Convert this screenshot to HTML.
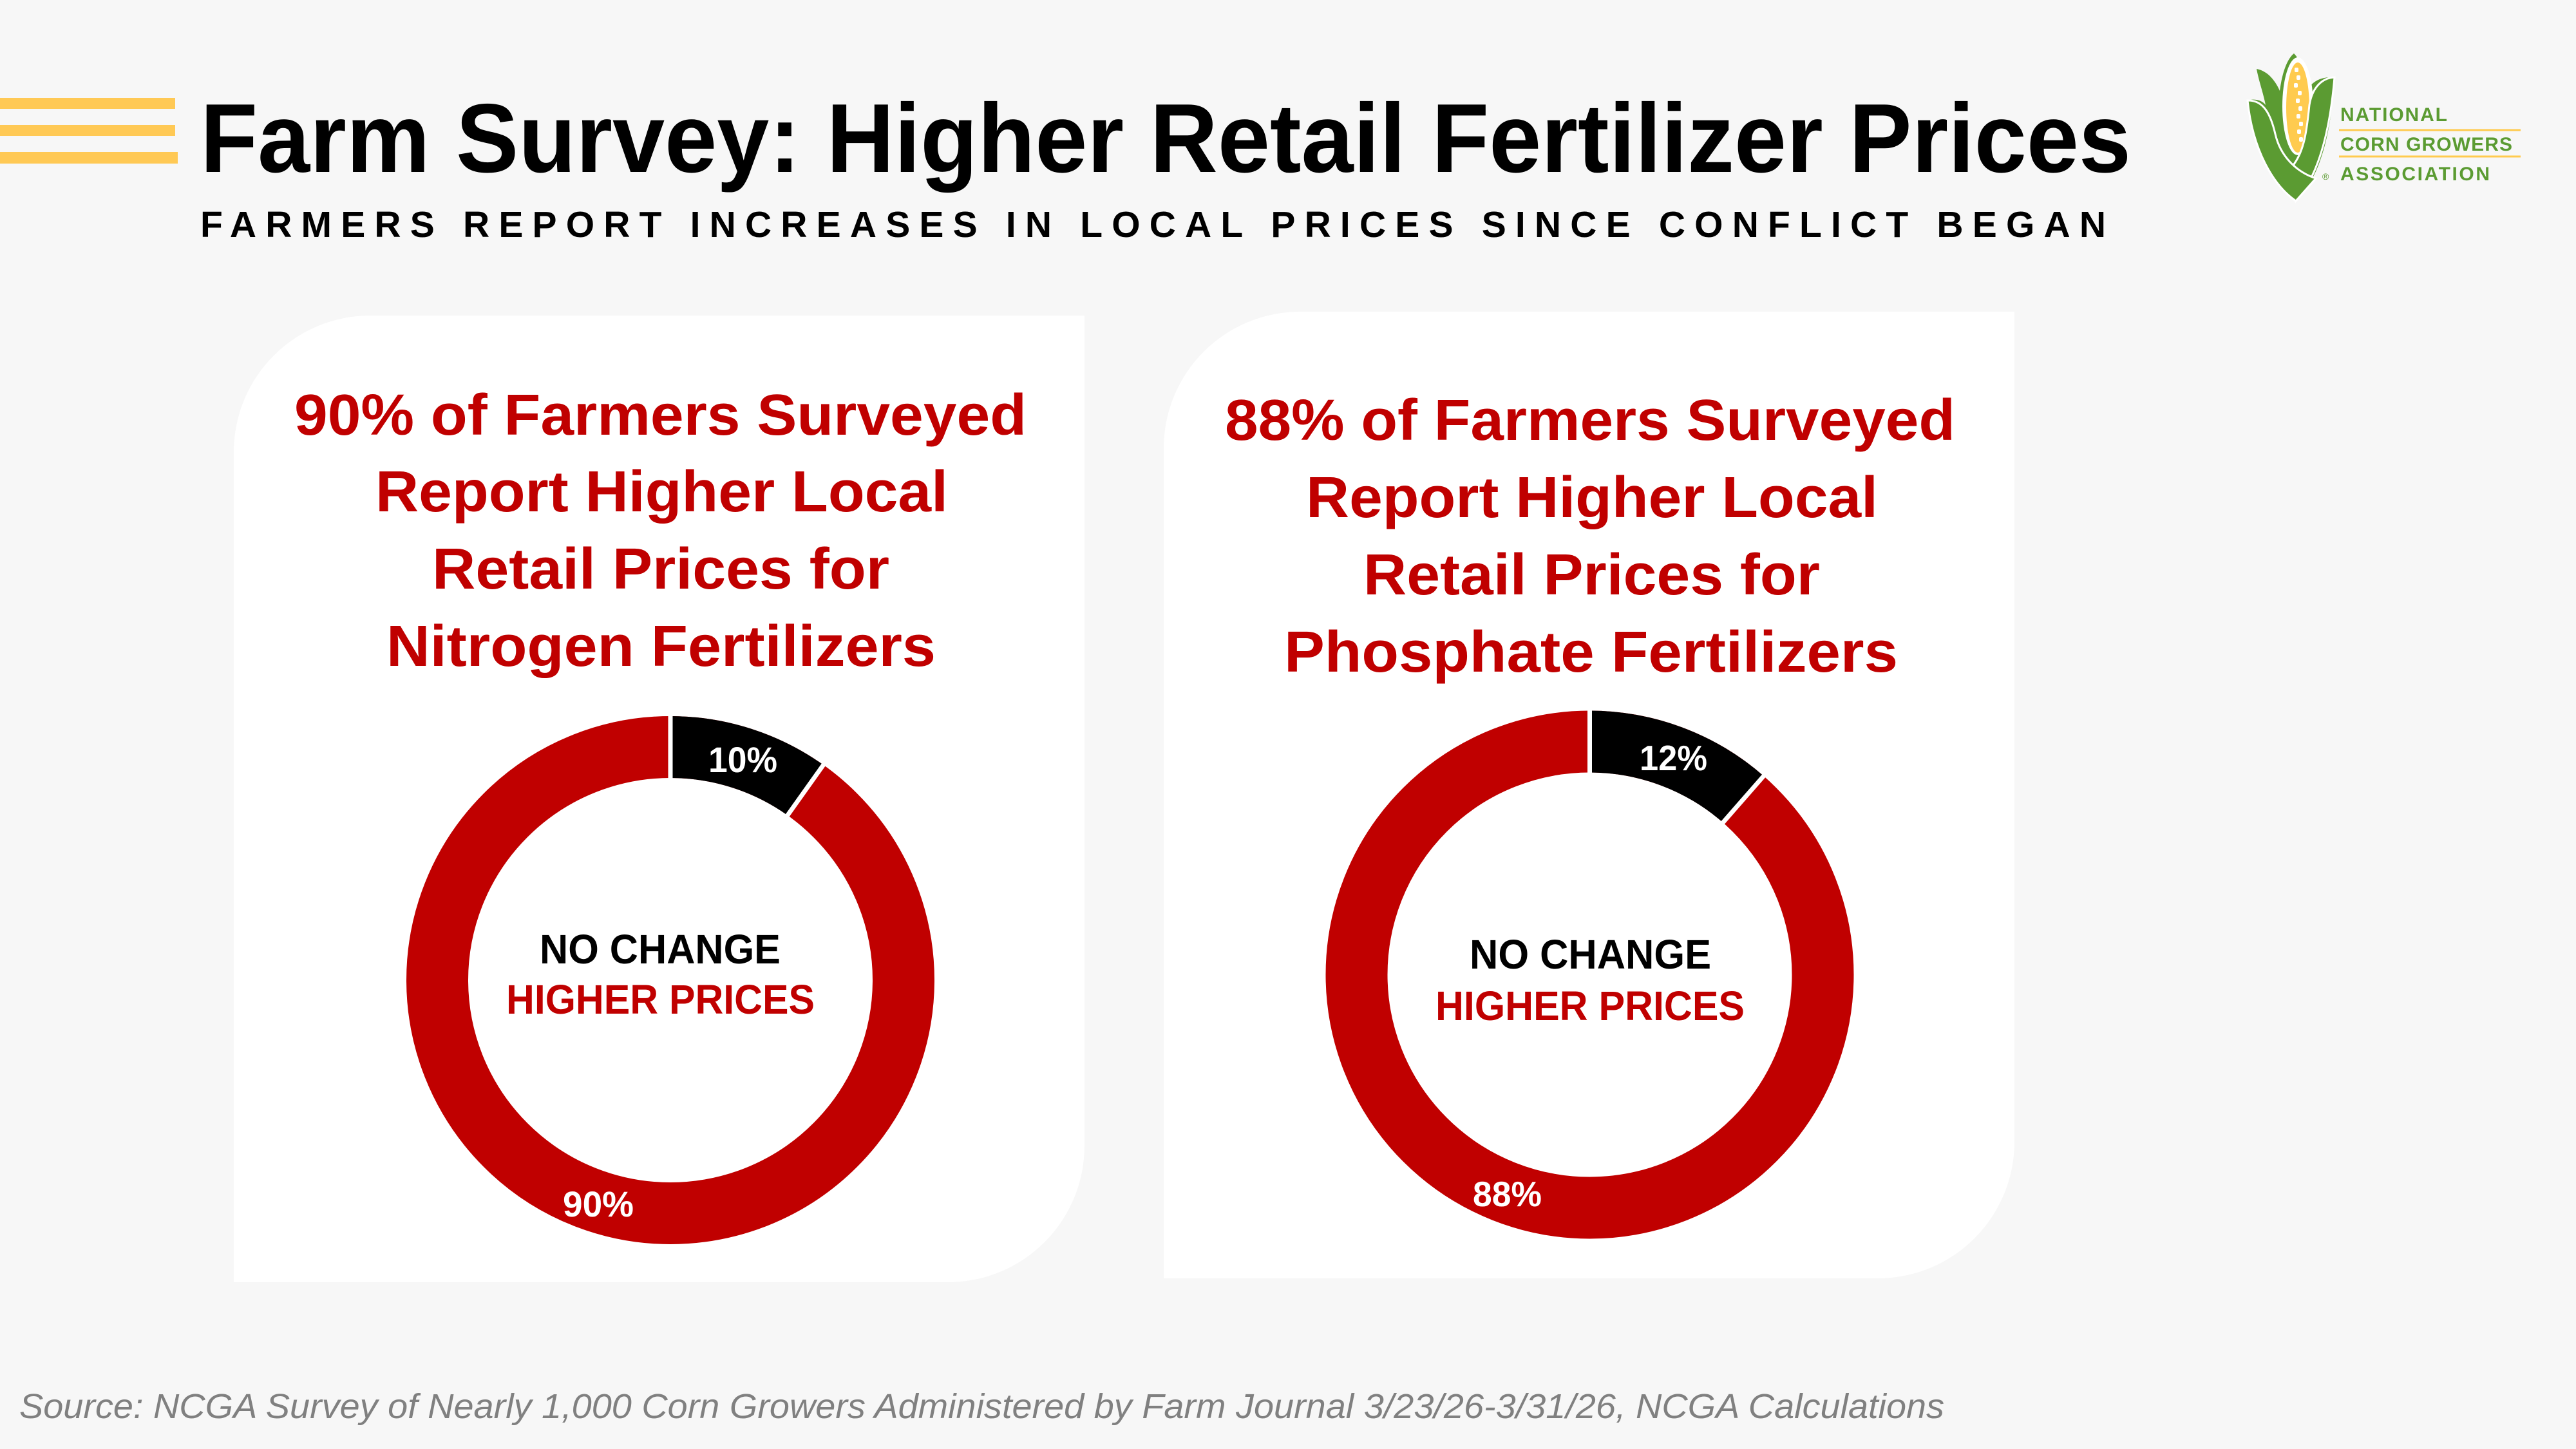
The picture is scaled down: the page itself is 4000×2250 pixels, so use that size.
<!DOCTYPE html>
<html>
<head>
<meta charset="utf-8">
<style>
html,body{margin:0;padding:0;width:4000px;height:2250px;overflow:hidden;background:#f7f7f7;}
svg{display:block;}
text{font-family:"Liberation Sans",Arial,sans-serif;}
</style>
</head>
<body>
<svg width="4000" height="2250" viewBox="0 0 4000 2250" xmlns="http://www.w3.org/2000/svg">
  <rect x="0" y="0" width="4000" height="2250" fill="#f7f7f7"/>

  <!-- Yellow bars -->
  <rect x="0" y="152" width="272" height="17" fill="#ffc955"/>
  <rect x="0" y="194" width="272" height="17" fill="#ffc955"/>
  <rect x="0" y="236" width="276" height="18" fill="#ffc955"/>

  <!-- Title -->
  <text x="311" y="267" font-size="152" font-weight="bold" fill="#000" textLength="2998" lengthAdjust="spacingAndGlyphs">Farm Survey: Higher Retail Fertilizer Prices</text>
  <text x="311" y="368" font-size="57" font-weight="bold" fill="#000" textLength="2959" lengthAdjust="spacing">FARMERS REPORT INCREASES IN LOCAL PRICES SINCE CONFLICT BEGAN</text>

  <!-- Logo -->
  <g transform="translate(3490,83)">
    <path d="M0,73 C10,70 22,72 28,80 C24,60 18,45 14,24 C30,27 42,40 50,58 C54,28 62,8 72,0 C82,10 90,30 94,55 C102,42 116,36 135,37 C130,120 115,190 75,229 C40,205 8,150 0,73 Z" fill="#5b9b32"/>
    <ellipse cx="78" cy="82" rx="24" ry="76" fill="#ffffff"/>
    <ellipse cx="78" cy="84" rx="18" ry="70" fill="#ffcb4f"/>
    <g fill="#ffffff">
      <rect x="73" y="22" width="6" height="7" rx="2"/>
      <rect x="76" y="34" width="6" height="7" rx="2"/>
      <rect x="72" y="46" width="6" height="7" rx="2"/>
      <rect x="78" y="58" width="6" height="7" rx="2"/>
      <rect x="75" y="70" width="6" height="7" rx="2"/>
      <rect x="79" y="82" width="6" height="7" rx="2"/>
      <rect x="76" y="94" width="6" height="7" rx="2"/>
      <rect x="80" y="106" width="6" height="7" rx="2"/>
      <rect x="77" y="118" width="6" height="7" rx="2"/>
      <rect x="80" y="130" width="6" height="7" rx="2"/>
    </g>
    <path d="M135,37 C114,38 100,55 96,80 C92,120 88,150 72,172 L75,229 C110,190 128,120 135,37 Z" fill="#5b9b32" stroke="#ffffff" stroke-width="3"/>
    <path d="M0,73 C25,72 36,95 43,125 C51,160 76,184 106,194 L75,229 C40,205 8,150 0,73 Z" fill="#5b9b32" stroke="#ffffff" stroke-width="3"/>
  </g>
  <text x="3606" y="279" font-size="14" fill="#5b9b32">®</text>
  <text x="3634" y="188" font-size="30" font-weight="bold" fill="#5b9b32" font-family="Liberation Sans Narrow, Liberation Sans, sans-serif" textLength="166" lengthAdjust="spacing">NATIONAL</text>
  <line x1="3632" y1="202" x2="3914" y2="202" stroke="#ffcb4f" stroke-width="3"/>
  <text x="3634" y="234" font-size="30" font-weight="bold" fill="#5b9b32" font-family="Liberation Sans Narrow, Liberation Sans, sans-serif" textLength="267" lengthAdjust="spacing">CORN GROWERS</text>
  <line x1="3632" y1="243" x2="3914" y2="243" stroke="#ffcb4f" stroke-width="3"/>
  <text x="3634" y="280" font-size="30" font-weight="bold" fill="#5b9b32" font-family="Liberation Sans Narrow, Liberation Sans, sans-serif" textLength="232" lengthAdjust="spacing">ASSOCIATION</text>

  <!-- Card 1 -->
  <path d="M363,702 A212,212 0 0 1 575,490 L1684,490 L1684,1779 A212,212 0 0 1 1472,1991 L363,1991 Z" fill="#ffffff"/>
  <g font-size="90" font-weight="bold" fill="#c00000">
    <text x="457" y="675" textLength="1137" lengthAdjust="spacingAndGlyphs">90% of Farmers Surveyed</text>
    <text x="583" y="794" textLength="889" lengthAdjust="spacingAndGlyphs">Report Higher Local</text>
    <text x="671" y="914" textLength="710" lengthAdjust="spacingAndGlyphs">Retail Prices for</text>
    <text x="600" y="1034" textLength="853" lengthAdjust="spacingAndGlyphs">Nitrogen Fertilizers</text>
  </g>
  <circle cx="1041" cy="1522" r="362" fill="none" stroke="#c00000" stroke-width="96"/>
  <path d="M1041,1112 A410,410 0 0 1 1278.5,1187.8 L1222.9,1266.1 A314,314 0 0 0 1041,1208 Z" fill="#000000"/>
  <line x1="1041" y1="1104" x2="1041" y2="1216" stroke="#ffffff" stroke-width="7"/>
  <line x1="1219.4" y1="1270.9" x2="1282" y2="1182.9" stroke="#ffffff" stroke-width="7"/>
  <text x="1100" y="1199" font-size="56" font-weight="bold" fill="#ffffff" textLength="107" lengthAdjust="spacingAndGlyphs">10%</text>
  <text x="874" y="1889" font-size="56" font-weight="bold" fill="#ffffff" textLength="110" lengthAdjust="spacingAndGlyphs">90%</text>
  <text x="838" y="1496" font-size="64" font-weight="bold" fill="#000000" textLength="374" lengthAdjust="spacingAndGlyphs">NO CHANGE</text>
  <text x="786" y="1574" font-size="64" font-weight="bold" fill="#c00000" textLength="479" lengthAdjust="spacingAndGlyphs">HIGHER PRICES</text>

  <!-- Card 2 -->
  <path d="M1807,696 A212,212 0 0 1 2019,484 L3128,484 L3128,1773 A212,212 0 0 1 2916,1985 L1807,1985 Z" fill="#ffffff"/>
  <g font-size="90" font-weight="bold" fill="#c00000">
    <text x="1902" y="683" textLength="1134" lengthAdjust="spacingAndGlyphs">88% of Farmers Surveyed</text>
    <text x="2028" y="803" textLength="888" lengthAdjust="spacingAndGlyphs">Report Higher Local</text>
    <text x="2117" y="923" textLength="709" lengthAdjust="spacingAndGlyphs">Retail Prices for</text>
    <text x="1994" y="1043" textLength="953" lengthAdjust="spacingAndGlyphs">Phosphate Fertilizers</text>
  </g>
  <circle cx="2468.5" cy="1513.5" r="362" fill="none" stroke="#c00000" stroke-width="96"/>
  <path d="M2468.5,1103.5 A410,410 0 0 1 2738.6,1205 L2675.3,1277.2 A314,314 0 0 0 2468.5,1199.5 Z" fill="#000000"/>
  <line x1="2468.5" y1="1096" x2="2468.5" y2="1207" stroke="#ffffff" stroke-width="7"/>
  <line x1="2671.4" y1="1281.8" x2="2742.5" y2="1200.5" stroke="#ffffff" stroke-width="7"/>
  <text x="2546" y="1196" font-size="55" font-weight="bold" fill="#ffffff" textLength="105" lengthAdjust="spacingAndGlyphs">12%</text>
  <text x="2287" y="1873" font-size="55" font-weight="bold" fill="#ffffff" textLength="107" lengthAdjust="spacingAndGlyphs">88%</text>
  <text x="2282" y="1504" font-size="64" font-weight="bold" fill="#000000" textLength="375" lengthAdjust="spacingAndGlyphs">NO CHANGE</text>
  <text x="2229" y="1584" font-size="64" font-weight="bold" fill="#c00000" textLength="480" lengthAdjust="spacingAndGlyphs">HIGHER PRICES</text>

  <!-- Footer -->
  <text x="30" y="2202" font-size="54" font-style="italic" fill="#808080" textLength="2989" lengthAdjust="spacingAndGlyphs">Source: NCGA Survey of Nearly 1,000 Corn Growers Administered by Farm Journal 3/23/26-3/31/26, NCGA Calculations</text>
</svg>
</body>
</html>
